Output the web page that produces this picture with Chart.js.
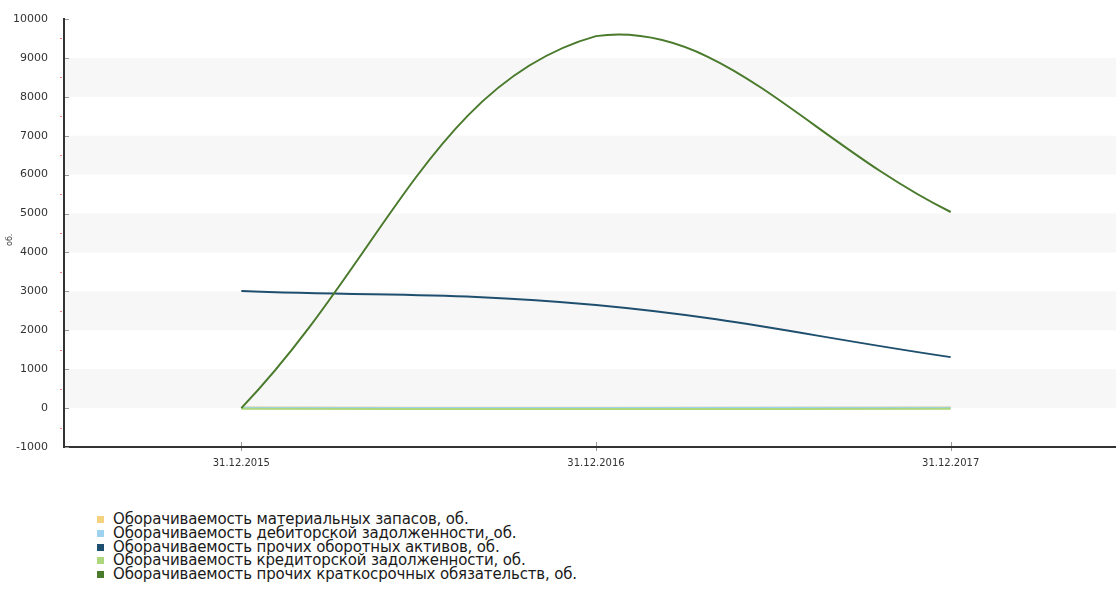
<!DOCTYPE html>
<html>
<head>
<meta charset="utf-8">
<script src="https://cdn.jsdelivr.net/npm/chart.js@4"></script>
<style>
  html, body { margin: 0; padding: 0; background: #fff; overflow: hidden; }
  #wrap { position: relative; width: 1128px; height: 480px; }
  #legend { position: absolute; left: 97px; top: 513px; font-family: "DejaVu Sans", sans-serif; font-size: 15px; letter-spacing: -0.15px; color: #1a1a1a; line-height: 13.8px; }
  #legend div { white-space: nowrap; }
  #legend span.box { display: inline-block; width: 7px; height: 7px; margin-right: 9px; vertical-align: 1px; }
  #ytitle { position: absolute; left: 5px; top: 246px; font-family: "DejaVu Sans", sans-serif; font-size: 8px; color: #444; transform: rotate(-90deg); transform-origin: left top; }
</style>
</head>
<body>
<div id="wrap"><canvas id="myChart" width="1128" height="480"></canvas></div>
<div id="ytitle">об.</div>
<div id="legend"></div>
<script>
// dates on the x axis
const dates = ["31.12.2015", "31.12.2016", "31.12.2017"];

// series values
const zapasy = [12, 10, 14];          // материальных запасов
const debitory = [6, 5, 8];           // дебиторской задолженности
const prochieAktivy = [3010, 2650, 1310];
const kreditory = [-20, -25, -15];    // кредиторской задолженности
const prochieObyaz = [0, 9560, 5040];

const seriesNames = [
  "Оборачиваемость материальных запасов, об.",
  "Оборачиваемость дебиторской задолженности, об.",
  "Оборачиваемость прочих оборотных активов, об.",
  "Оборачиваемость кредиторской задолженности, об.",
  "Оборачиваемость прочих краткосрочных обязательств, об."
];
const seriesColors = ["#f5d37e", "#9fd2ef", "#1f4f6e", "#acd77c", "#4a7a2c"];
const seriesData = [zapasy, debitory, prochieAktivy, kreditory, prochieObyaz];
// dark green on top
const drawOrder = [4, 3, 1, 2, 0];

// grey bands between every other thousand, plus the small tick marks
const bandsPlugin = {
  id: 'bands',
  beforeDatasetsDraw(chart) {
    const ctx = chart.ctx;
    const y = chart.scales.y;
    const area = chart.chartArea;
    ctx.save();
    ctx.fillStyle = '#f7f7f7';
    for (let v = 0; v < 10000; v += 2000) {
      const top = y.getPixelForValue(v + 1000);
      const bottom = y.getPixelForValue(v);
      ctx.fillRect(area.left, top, area.right - area.left, bottom - top);
    }
    ctx.restore();
  },
  afterDraw(chart) {
    const ctx = chart.ctx;
    const y = chart.scales.y;
    const x = chart.scales.x;
    const area = chart.chartArea;
    ctx.save();
    ctx.lineWidth = 1;
    // major ticks on y (grey, inside) and minor ticks (red, outside)
    for (let v = -1000; v <= 10000; v += 500) {
      const py = Math.round(y.getPixelForValue(v)) + 0.5;
      ctx.beginPath();
      if (v % 1000 === 0) {
        ctx.strokeStyle = '#999';
        ctx.moveTo(area.left + 1, py);
        ctx.lineTo(area.left + 5, py);
      } else {
        ctx.strokeStyle = '#f08080';
        ctx.moveTo(area.left - 4, py);
        ctx.lineTo(area.left - 2, py);
      }
      ctx.stroke();
    }
    // solid y axis line on top
    ctx.fillStyle = '#333';
    ctx.fillRect(Math.round(area.left) - 1, area.top, 2, area.bottom - area.top);
    // ticks on x
    ctx.strokeStyle = '#999';
    dates.forEach((d, i) => {
      const px = Math.round(x.getPixelForValue(i)) + 0.5;
      ctx.beginPath();
      ctx.moveTo(px, area.bottom - 5);
      ctx.lineTo(px, area.bottom - 1);
      ctx.moveTo(px, area.bottom + 1);
      ctx.lineTo(px, area.bottom + 4);
      ctx.stroke();
    });
    ctx.restore();
  }
};

const datasets = seriesNames.map((name, i) => ({
  label: name,
  data: seriesData[i],
  borderColor: seriesColors[i],
  backgroundColor: seriesColors[i],
  borderWidth: 2,
  pointRadius: 0,
  tension: 0.4,
  fill: false,
  order: drawOrder[i]
}));

const myChart = new Chart(document.getElementById('myChart'), {
  type: 'line',
  data: { labels: dates, datasets: datasets },
  options: {
    responsive: false,
    animation: false,
    layout: { padding: { top: 19, right: 0, left: 0, bottom: 0 } },
    plugins: { legend: { display: false }, tooltip: { enabled: false } },
    scales: {
      x: {
        offset: true,
        grid: { display: false, offset: false },
        border: { color: '#333', width: 2 },
        ticks: { color: '#333', font: { family: 'DejaVu Sans', size: 10 }, padding: 2, maxRotation: 0 },
        afterFit(scale) { scale.height = 33; }
      },
      y: {
        min: -1000,
        max: 10000,
        grid: { display: false },
        border: { color: '#333', width: 2 },
        ticks: {
          stepSize: 1000,
          color: '#333',
          font: { family: 'DejaVu Sans', size: 11 },
          padding: 8,
          callback: value => String(value)
        },
        afterFit(scale) { scale.width = 64; }
      }
    }
  },
  plugins: [bandsPlugin]
});

// html legend, stacked like the original
const legend = document.getElementById('legend');
seriesNames.forEach((name, i) => {
  const row = document.createElement('div');
  row.innerHTML = '<span class="box" style="background:' + seriesColors[i] + '"></span>' + name;
  legend.appendChild(row);
});
</script>
</body>
</html>
